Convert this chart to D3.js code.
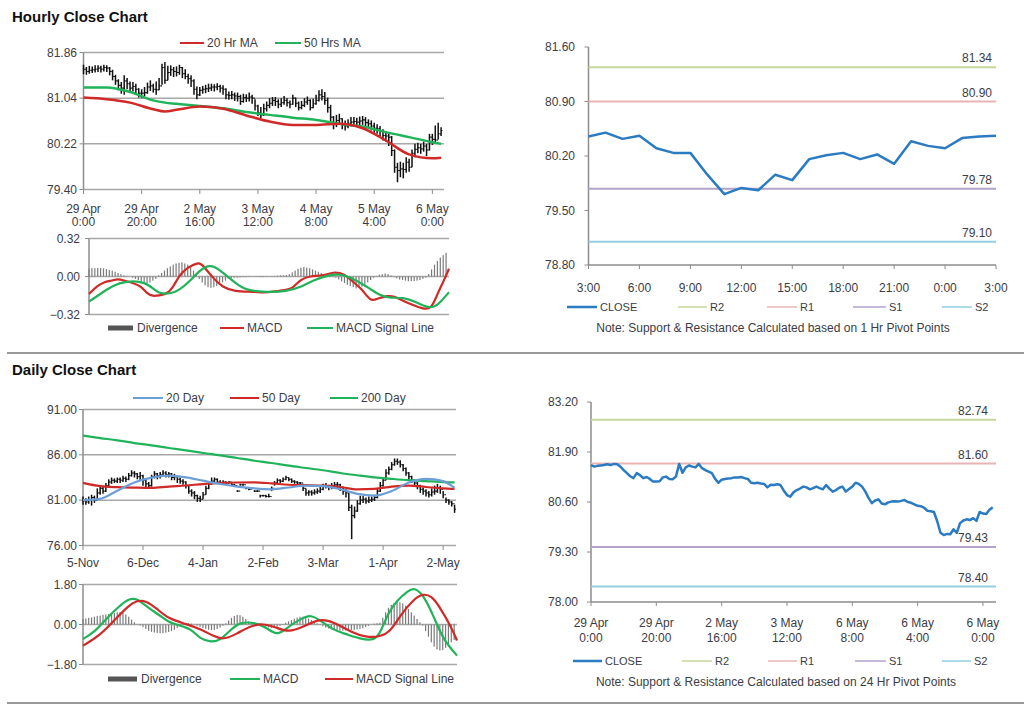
<!DOCTYPE html>
<html><head><meta charset="utf-8">
<script src="https://cdn.jsdelivr.net/npm/d3@7"></script>
<style>body{margin:0;background:#fff;} svg{display:block;font-family:"Liberation Sans",Arial,sans-serif;}</style>
</head><body><svg id="c" width="1024" height="706"></svg>
<script>
// ---------------- DATA ----------------
// Hourly OHLC-style bars (index = trading hour from 29 Apr 0:00)
const hourlyClose = [81.56,81.52,81.54,81.55,81.56,81.58,81.56,81.59,81.58,81.52,81.43,81.35,81.27,81.22,81.35,81.30,81.22,81.25,81.20,81.13,81.13,81.14,81.24,81.26,81.20,81.19,81.26,81.59,81.36,81.50,81.55,81.52,81.50,81.59,81.48,81.43,81.39,81.35,81.20,81.10,81.18,81.20,81.21,81.22,81.24,81.24,81.25,81.22,81.20,81.10,81.09,81.10,81.08,81.07,80.98,81.05,81.04,81.06,81.04,80.90,80.78,80.74,80.85,80.91,80.95,81.00,80.98,80.93,80.96,81.00,80.96,80.93,81.04,80.95,80.87,80.91,80.97,81.00,80.87,80.94,81.00,81.10,81.07,81.00,80.87,80.70,80.57,80.64,80.67,80.56,80.54,80.59,80.61,80.62,80.61,80.63,80.65,80.60,80.58,80.54,80.50,80.49,80.45,80.37,80.36,80.34,80.10,79.80,79.74,79.77,79.76,79.89,79.80,80.05,80.12,80.15,80.13,80.18,80.11,80.34,80.30,80.29,80.40,80.46];
const hourlyHigh = [81.64,81.60,81.62,81.61,81.63,81.63,81.62,81.64,81.63,81.60,81.55,81.46,81.38,81.33,81.45,81.40,81.34,81.33,81.30,81.22,81.20,81.24,81.32,81.36,81.30,81.34,81.40,81.66,81.69,81.62,81.63,81.60,81.61,81.64,81.60,81.56,81.48,81.45,81.38,81.25,81.24,81.26,81.28,81.30,81.30,81.29,81.31,81.28,81.27,81.22,81.16,81.17,81.14,81.14,81.10,81.12,81.11,81.14,81.10,81.02,80.92,80.88,80.94,80.98,81.04,81.06,81.06,81.02,81.04,81.08,81.04,81.00,81.10,81.05,80.98,80.99,81.04,81.07,81.02,81.03,81.10,81.18,81.20,81.15,81.05,80.92,80.72,80.74,80.76,80.68,80.64,80.66,80.70,80.70,80.69,80.71,80.72,80.70,80.66,80.64,80.60,80.57,80.54,80.48,80.44,80.42,80.36,80.12,79.88,79.90,79.88,79.98,79.95,80.12,80.22,80.24,80.22,80.26,80.22,80.40,80.40,80.55,80.60,80.52];
const hourlyLow = [81.47,81.46,81.48,81.49,81.50,81.51,81.50,81.52,81.51,81.45,81.36,81.28,81.18,81.12,81.10,81.20,81.15,81.16,81.12,81.05,81.04,81.07,81.12,81.17,81.14,81.10,81.18,81.28,81.30,81.36,81.44,81.42,81.43,81.46,81.40,81.38,81.30,81.24,81.10,81.02,81.08,81.12,81.13,81.15,81.17,81.16,81.18,81.14,81.10,81.02,81.01,81.02,80.99,80.98,80.92,80.96,80.97,80.98,80.94,80.82,80.72,80.68,80.72,80.80,80.86,80.90,80.90,80.86,80.88,80.92,80.89,80.86,80.92,80.88,80.82,80.84,80.88,80.92,80.82,80.86,80.92,80.98,81.00,80.92,80.78,80.60,80.48,80.52,80.56,80.48,80.46,80.50,80.53,80.55,80.54,80.55,80.56,80.52,80.50,80.46,80.42,80.40,80.36,80.28,80.26,80.18,80.00,79.70,79.53,79.62,79.60,79.70,79.72,79.80,79.98,80.05,80.04,80.08,80.00,80.10,80.20,80.22,80.30,80.36];
const hourlyTickIdx = [0,20,40,60,80,100,120];
const hourlyTickTop = ["29 Apr","29 Apr","2 May","3 May","4 May","5 May","6 May"];
const hourlyTickBot = ["0:00","20:00","16:00","12:00","8:00","4:00","0:00"];
const hourlyYTicks = [79.40,80.22,81.04,81.86];
// Hourly moving averages (read at these hour indices)
const hourlyMAIdx = [0,8,16,24,28,32,40,48,56,64,72,80,88,96,104,112,120,123];
const hourlyMA20 = [81.05,81.02,80.96,80.84,80.80,80.83,80.89,80.85,80.73,80.62,80.56,80.56,80.58,80.50,80.28,80.03,79.96,79.97];
const hourlyMA50 = [81.23,81.23,81.15,81.00,80.96,80.94,80.90,80.86,80.79,80.74,80.69,80.65,80.58,80.53,80.43,80.34,80.25,80.22];
// Hourly MACD
const hMacdIdx = [0,3,5,8,10,12,15,18,20,22,24,27,29,31,34,38,39,43,46,50,57,60,64,68,70,73,76,81,84,88,91,94,97,99,103,105,108,112,115,118,120,122,124];
const hMacd = [-0.146,-0.076,-0.048,-0.034,-0.020,-0.034,-0.053,-0.080,-0.146,-0.166,-0.160,-0.146,-0.090,0.008,0.079,0.121,0.100,-0.020,-0.090,-0.127,-0.127,-0.138,-0.127,-0.110,-0.104,-0.020,0.003,0.008,0.039,0.025,-0.048,-0.104,-0.211,-0.189,-0.160,-0.166,-0.203,-0.245,-0.273,-0.273,-0.146,-0.048,0.065];
const hSigIdx = [0,4,8,13,18,21,24,28,31,35,38,41,43,46,50,54,61,68,73,77,82,86,90,93,97,100,104,108,113,116,119,121,124];
const hSig = [-0.211,-0.146,-0.076,-0.039,-0.042,-0.076,-0.146,-0.146,-0.118,-0.034,0.051,0.093,0.087,0.037,-0.048,-0.118,-0.132,-0.127,-0.090,-0.034,0.008,0.022,-0.006,-0.048,-0.104,-0.160,-0.183,-0.174,-0.217,-0.259,-0.259,-0.217,-0.132];
const hDiv = [0.065,0.07,0.07,0.072,0.07,0.068,0.062,0.055,0.05,0.04,
 0.03,0.02,0.01,0.005,0,
 -0.01,-0.02,-0.03,-0.045,-0.055,-0.06,-0.05,-0.035,-0.02,
 0.01,0.03,0.05,0.07,0.085,0.1,0.11,0.115,0.12,0.11,0.1,0.08,0.05,
 0.02,-0.02,-0.05,-0.075,-0.09,-0.095,-0.09,-0.08,-0.065,-0.05,-0.035,-0.02,
 -0.015,-0.01,-0.01,-0.008,-0.005,-0.005,-0.003,0,0,-0.003,-0.005,-0.005,-0.003,0,0.003,0.005,0.008,0.01,0.01,0.012,
 0.02,0.035,0.05,0.065,0.075,0.08,0.075,0.07,0.06,0.05,0.04,0.03,
 0.02,0.015,0.01,0.005,-0.01,-0.025,
 -0.04,-0.055,-0.07,-0.08,-0.09,-0.1,-0.095,-0.085,-0.07,-0.05,-0.03,
 -0.01,0.005,0.015,0.02,0.025,0.02,0.01,
 -0.005,-0.015,-0.025,-0.03,-0.035,-0.04,-0.04,-0.038,-0.035,-0.03,-0.02,-0.01,
 0.02,0.06,0.1,0.13,0.16,0.18,0.2];
const hMacdYTicks = [-0.32,0,0.32];

// 1-hour pivot chart (last 24 hours)
const pivot1Labels = ["3:00","6:00","9:00","12:00","15:00","18:00","21:00","0:00","3:00"];
const pivot1Close = [80.45,80.50,80.42,80.46,80.30,80.24,80.24,79.96,79.71,79.79,79.76,79.96,79.89,80.16,80.21,80.24,80.16,80.22,80.10,80.39,80.33,80.30,80.43,80.45,80.46];
const pivot1YTicks = [78.80,79.50,80.20,80.90,81.60];
const pivot1Levels = [81.34,80.90,79.78,79.10]; // R2, R1, S1, S2
const levelNames = ["R2","R1","S1","S2"];

// Daily bars (index = trading day from 5-Nov)
const dailyClose = [80.9,80.8,81.0,81.3,81.0,81.8,82.3,82.0,82.6,83.0,83.2,83.1,83.3,83.2,83.4,83.3,83.7,84.0,83.9,83.6,83.7,83.2,82.8,82.6,83.6,83.9,83.7,83.8,84.0,83.8,83.9,83.5,83.6,83.3,83.1,83.0,82.6,82.0,81.8,81.5,81.2,81.1,81.6,82.3,82.8,83.1,83.3,83.0,82.9,83.0,82.9,83.0,82.7,82.6,82.0,82.7,82.7,82.3,82.2,82.3,82.0,82.0,81.5,81.5,81.4,81.4,82.3,82.9,83.2,83.1,83.3,83.5,83.3,83.1,83.0,82.9,82.9,82.3,81.8,81.9,81.8,81.9,82.0,82.2,82.5,82.6,82.4,82.6,82.7,82.7,82.4,82.0,81.8,80.2,79.3,79.8,80.6,81.0,81.1,80.9,81.0,81.1,81.3,82.0,82.6,83.2,84.0,84.4,84.9,85.3,85.2,84.9,84.5,84.0,83.6,83.2,82.9,82.6,82.2,82.0,81.8,81.6,81.9,82.0,82.4,82.2,81.6,81.0,80.8,80.6,80.0];
const dailyHigh = [81.4,81.2,81.4,81.6,81.5,82.3,82.6,82.6,82.9,83.3,83.5,83.4,83.5,83.5,83.7,83.6,84.0,84.3,84.2,84.0,84.1,83.8,83.4,83.0,83.8,84.2,84.0,84.1,84.3,84.2,84.1,84.0,83.9,83.7,83.5,83.3,83.1,82.7,82.2,82.0,81.6,81.5,81.9,82.6,83.1,83.5,83.5,83.4,83.2,83.2,83.1,83.1,82.9,82.8,82.1,82.8,82.8,82.4,82.3,82.4,82.1,82.1,81.6,81.6,81.6,81.7,82.5,83.1,83.4,83.3,83.5,83.7,83.5,83.4,83.2,83.1,83.0,82.8,82.3,82.1,82.1,82.2,82.3,82.5,82.8,82.9,82.7,82.9,83.0,83.0,82.8,82.5,82.2,81.8,80.5,80.3,81.0,81.5,81.5,81.3,81.4,81.4,81.6,82.3,83.0,83.5,84.4,84.7,85.2,85.6,85.6,85.4,85.0,84.6,84.1,83.7,83.3,83.0,82.7,82.4,82.2,82.0,82.3,82.6,82.8,82.6,82.0,81.3,81.1,80.9,80.5];
const dailyLow = [80.5,80.5,80.6,80.4,80.7,81.0,81.6,81.7,81.9,82.4,82.8,82.9,82.9,82.9,83.0,83.0,83.2,83.6,83.5,83.3,83.2,82.6,82.4,82.4,82.5,83.4,83.3,83.4,83.6,83.5,83.5,83.2,83.2,82.9,82.8,82.7,82.3,81.7,81.4,81.1,80.8,80.8,81.1,81.6,82.2,82.7,82.9,82.8,82.7,82.8,82.7,82.8,82.6,82.5,81.9,82.6,82.6,82.2,82.1,82.2,81.9,81.9,81.3,81.4,81.3,81.3,82.0,82.6,82.9,82.9,83.0,83.2,83.1,82.9,82.8,82.6,82.5,82.0,81.5,81.5,81.5,81.6,81.7,81.8,82.1,82.3,82.1,82.2,82.4,82.3,82.0,81.6,81.3,79.8,76.7,79.0,79.7,80.5,80.7,80.6,80.7,80.8,80.9,81.2,81.9,82.5,83.2,83.8,84.3,84.8,84.9,84.6,84.2,83.7,83.2,82.9,82.5,82.2,81.8,81.6,81.4,81.3,81.4,81.6,81.8,81.7,81.2,80.7,80.5,80.3,79.6];
const dailyTickIdx = [0,21,42,63,84,105,126];
const dailyTickLabels = ["5-Nov","6-Dec","4-Jan","2-Feb","3-Mar","1-Apr","2-May"];
const dailyYTicks = [76,81,86,91];
// Daily moving averages (read at these day indices)
const dailyMAIdx = [0,6,12,18,24,30,36,42,48,54,60,66,72,78,84,90,96,102,108,114,120,126,130];
const dailyMA20 = [81.0,81.15,82.05,82.95,83.48,83.7,83.52,83.15,82.78,82.5,82.3,82.2,82.4,82.6,82.55,82.2,81.7,81.5,82.0,82.95,83.35,83.1,82.35];
const dailyMA50 = [82.9,82.54,82.43,82.38,82.35,82.5,82.62,82.78,82.9,82.95,82.97,82.85,82.7,82.65,82.6,82.45,82.2,82.25,82.5,82.6,82.45,82.3,82.24];
const dailyMA200 = [88.12,87.85,87.6,87.3,87.05,86.75,86.5,86.2,85.95,85.65,85.35,85.1,84.8,84.55,84.3,84.0,83.75,83.52,83.35,83.2,83.1,83.0,82.97];
// Daily MACD
const dMacdIdx = [0,4,8,13,16,19,21,24,27,30,34,38,41,45,48,52,55,60,64,68,71,76,80,83,88,92,97,102,104,107,110,114,116,119,123,126,131];
const dMacd = [-0.65,-0.35,0.25,0.86,1.16,1.16,0.93,0.66,0.4,0.1,-0.05,-0.2,-0.65,-0.8,-0.72,-0.2,0.1,0.1,-0.12,-0.5,-0.2,0.25,0.45,0.18,-0.27,-0.42,-0.65,-0.72,-0.42,0.56,1.08,1.53,1.65,1.38,0.33,-0.65,-1.4];
const dSigIdx = [0,6,12,16,19,22,26,30,36,41,46,49,54,58,63,68,72,77,83,88,94,99,104,108,111,116,119,122,125,129,131];
const dSig = [-0.95,-0.5,0.33,0.86,1.08,1.08,0.7,0.25,0.03,-0.2,-0.54,-0.69,-0.42,-0.09,0.06,-0.15,-0.35,-0.12,0.28,0.1,-0.35,-0.57,-0.57,-0.27,0.4,1.16,1.38,1.3,0.78,-0.12,-0.72];
const dDiv = [0.25,0.27,0.3,0.32,0.35,0.38,
 0.4,0.43,0.45,0.48,0.5,0.52,0.55,
 0.56,0.53,0.45,0.35,0.22,0.1,
 0.02,-0.05,-0.12,-0.2,
 -0.28,-0.33,-0.36,-0.38,-0.39,-0.39,-0.37,-0.34,-0.3,-0.24,-0.15,
 -0.05,0.03,0.06,0.06,0.04,0.0,
 -0.05,-0.1,-0.16,-0.2,-0.24,-0.25,-0.24,-0.2,-0.14,-0.06,
 0.05,0.18,0.3,0.38,0.43,0.42,0.35,0.25,0.14,
 0.05,0.02,0,-0.03,-0.06,-0.1,-0.13,
 -0.15,-0.14,-0.1,-0.05,0.02,
 0.08,0.14,0.2,0.26,0.31,0.35,0.35,0.32,0.27,0.2,0.12,0.05,
 -0.02,-0.08,-0.14,-0.18,-0.22,-0.25,-0.27,-0.28,-0.28,-0.27,-0.26,-0.25,-0.24,-0.22,-0.2,-0.17,-0.12,
 -0.06,0.0,0.04,0.06,0.08,
 0.3,0.55,0.75,0.88,0.97,1.0,1.0,0.95,0.85,0.7,0.55,0.4,0.25,0.1,-0.05,
 -0.3,-0.55,-0.8,-1.0,-1.12,-1.17,-1.15,-1.05,-0.95,-0.8,-0.7];
const dMacdYTicks = [-1.8,0,1.8];

// 24-hour pivot chart
const pivot24TickIdx = [0,20,40,60,80,100,120];
const pivot24TickTop = ["29 Apr","29 Apr","2 May","3 May","6 May","6 May","6 May"];
const pivot24TickBot = ["0:00","20:00","16:00","12:00","8:00","4:00","0:00"];
const pivot24YTicks = [78.00,79.30,80.60,81.90,83.20];
const pivot24Levels = [82.74,81.60,79.43,78.40];

// ---------------- DRAWING ----------------
const svg = d3.select("#c");
const TXT = "#3c3c46", GRID = "#a8a8a8", AX = "#8c8c8c";
const RED = "#cf2a27", GREEN = "#21b35a", BLUE = "#2b7bc3", LBLUE = "#6c9fd8", DIVC = "#7a7a7a";
const levelColors = ["#c4d79b", "#e8b4b4", "#b2a2cc", "#93cfe0"];
const f2 = d3.format(".2f");
const pairs = (idx, vals) => idx.map((d, i) => [d, vals[i]]);

svg.append("rect").attr("width", 1024).attr("height", 706).attr("fill", "#fff");

function title(t, y) {
  svg.append("text").attr("x", 12).attr("y", y).attr("font-size", 15).attr("font-weight", "bold")
    .attr("fill", "#111").text(t);
}
title("Hourly Close Chart", 22);
title("Daily Close Chart", 375);
svg.append("line").attr("x1", 7).attr("x2", 1024).attr("y1", 353).attr("y2", 353).attr("stroke", "#999").attr("stroke-width", 2);
svg.append("line").attr("x1", 7).attr("x2", 1024).attr("y1", 703).attr("y2", 703).attr("stroke", "#999").attr("stroke-width", 2);

function gridPanel(x, y, yTicks, labelX, fmt) {
  const [x0, x1] = x.range();
  const g = svg.append("g");
  yTicks.forEach(v => {
    g.append("line").attr("x1", x0).attr("x2", x1).attr("y1", y(v)).attr("y2", y(v))
      .attr("stroke", GRID).attr("stroke-width", 1.5);
    g.append("line").attr("x1", x0 - 4).attr("x2", x0).attr("y1", y(v)).attr("y2", y(v)).attr("stroke", AX);
    g.append("text").attr("x", labelX).attr("y", y(v)).attr("dy", "0.35em").attr("text-anchor", "end")
      .attr("font-size", 12).attr("fill", TXT).text(fmt(v));
  });
  const [ya, yb] = y.range();
  g.append("line").attr("x1", x0).attr("x2", x0).attr("y1", ya).attr("y2", yb).attr("stroke", AX).attr("stroke-width", 1.5);
  return g;
}

function legendLine(x1, x2, y, color, w, label, size) {
  svg.append("line").attr("x1", x1).attr("x2", x2).attr("y1", y).attr("y2", y).attr("stroke", color).attr("stroke-width", w);
  svg.append("text").attr("x", x2 + 3).attr("y", y + 4).attr("font-size", size).attr("fill", TXT).text(label);
}
function legendBar(x1, x2, y, label) {
  svg.append("rect").attr("x", x1).attr("y", y - 2.5).attr("width", x2 - x1).attr("height", 5).attr("fill", "#555");
  svg.append("text").attr("x", x2 + 4).attr("y", y + 4).attr("font-size", 12).attr("fill", TXT).text(label);
}

function bars(x, y, hi, lo, cl, w) {
  const g = svg.append("g").attr("stroke", "#111");
  cl.forEach((c, i) => {
    const xi = x(i);
    g.append("line").attr("x1", xi).attr("x2", xi).attr("y1", y(lo[i])).attr("y2", y(hi[i])).attr("stroke-width", w);
    g.append("line").attr("x1", xi).attr("x2", xi + 1.4).attr("y1", y(c)).attr("y2", y(c)).attr("stroke-width", 1.1);
    if (i > 0) g.append("line").attr("x1", xi - 1.4).attr("x2", xi).attr("y1", y(cl[i - 1])).attr("y2", y(cl[i - 1])).attr("stroke-width", 1.1);
  });
}
function line(x, y, data, color, w, curve) {
  svg.append("path").datum(data).attr("fill", "none").attr("stroke", color).attr("stroke-width", w)
    .attr("stroke-linejoin", "round")
    .attr("d", d3.line().x(d => x(d[0])).y(d => y(d[1])).curve(curve || d3.curveMonotoneX));
}
function divBars(x, y, vals, w) {
  const g = svg.append("g");
  vals.forEach((v, i) => {
    g.append("rect").attr("x", x(i) - w / 2).attr("width", w)
      .attr("y", Math.min(y(0), y(v))).attr("height", Math.abs(y(v) - y(0))).attr("fill", DIVC);
  });
}

// ---- Panel A: hourly bars ----
{
  const x = d3.scaleLinear().domain([0, 124]).range([83.5, 444]);
  const y = d3.scaleLinear().domain([79.40, 81.86]).range([189.5, 52.5]);
  gridPanel(x, y, hourlyYTicks, 77, f2);
  hourlyTickIdx.forEach((t, i) => {
    svg.append("line").attr("x1", x(t)).attr("x2", x(t)).attr("y1", 189.5).attr("y2", 194).attr("stroke", AX);
    svg.append("text").attr("x", x(t)).attr("y", 213).attr("text-anchor", "middle").attr("font-size", 12).attr("fill", TXT).text(hourlyTickTop[i]);
    svg.append("text").attr("x", x(t)).attr("y", 226).attr("text-anchor", "middle").attr("font-size", 12).attr("fill", TXT).text(hourlyTickBot[i]);
  });
  bars(x, y, hourlyHigh, hourlyLow, hourlyClose, 1.5);
  line(x, y, pairs(hourlyMAIdx, hourlyMA50), GREEN, 2.5);
  line(x, y, pairs(hourlyMAIdx, hourlyMA20), RED, 2.5);
  legendLine(180, 204, 43, RED, 2, "20 Hr MA", 12);
  legendLine(275, 301, 43, GREEN, 2, "50 Hrs MA", 12);
}
// ---- Panel B: hourly MACD ----
{
  const x = d3.scaleLinear().domain([0, 124]).range([89, 449]);
  const y = d3.scaleLinear().domain([-0.32, 0.32]).range([314.5, 238.5]);
  gridPanel(x, y, hMacdYTicks, 80, f2);
  divBars(x, y, hDiv, 1.2);
  line(x, y, pairs(hMacdIdx, hMacd), RED, 2.2, d3.curveBasis);
  line(x, y, pairs(hSigIdx, hSig), GREEN, 2.2, d3.curveBasis);
  legendBar(108, 133, 328, "Divergence");
  legendLine(220, 244, 328, RED, 2, "MACD", 12);
  legendLine(307, 333, 328, GREEN, 2, "MACD Signal Line", 12);
}
// ---- pivot panel helper ----
function pivotPanel(x, y, yTicks, labelX, levels, lvlLabelX, lvlDy) {
  const [x0, x1] = x.range();
  const [yb, yt] = y.range();
  svg.append("line").attr("x1", x0).attr("x2", x0).attr("y1", yb).attr("y2", yt).attr("stroke", AX).attr("stroke-width", 1.5);
  svg.append("line").attr("x1", x0).attr("x2", x1).attr("y1", yb).attr("y2", yb).attr("stroke", AX).attr("stroke-width", 1.5);
  yTicks.forEach(v => {
    svg.append("line").attr("x1", x0 - 4).attr("x2", x0).attr("y1", y(v)).attr("y2", y(v)).attr("stroke", AX);
    svg.append("text").attr("x", labelX).attr("y", y(v)).attr("dy", "0.35em").attr("text-anchor", "end")
      .attr("font-size", 12).attr("fill", TXT).text(f2(v));
  });
  levels.forEach((v, i) => {
    svg.append("line").attr("x1", x0).attr("x2", x1).attr("y1", y(v)).attr("y2", y(v)).attr("stroke", levelColors[i]).attr("stroke-width", 2);
    svg.append("text").attr("x", lvlLabelX).attr("y", y(v) - lvlDy).attr("text-anchor", "end").attr("font-size", 12).attr("fill", TXT).text(f2(v));
  });
}
function pivotLegend(y, xs, note, noteX, noteY) {
  legendLine(xs[0][0], xs[0][1], y, BLUE, 2.5, "CLOSE", 11);
  levelNames.forEach((n, i) => legendLine(xs[i + 1][0], xs[i + 1][1], y, levelColors[i], 1.5, n, 11));
  svg.append("text").attr("x", noteX).attr("y", noteY).attr("text-anchor", "middle").attr("font-size", 12).attr("fill", TXT).text(note);
}
// ---- Panel C: 1 hr pivot ----
{
  const x = d3.scaleLinear().domain([0, 24]).range([588.5, 996]);
  const y = d3.scaleLinear().domain([78.80, 81.60]).range([265, 47]);
  pivotPanel(x, y, pivot1YTicks, 575, pivot1Levels, 992, 5);
  pivot1Labels.forEach((l, i) => {
    svg.append("line").attr("x1", x(i * 3)).attr("x2", x(i * 3)).attr("y1", 265).attr("y2", 269).attr("stroke", AX);
    svg.append("text").attr("x", x(i * 3)).attr("y", 292).attr("text-anchor", "middle").attr("font-size", 12).attr("fill", TXT).text(l);
  });
  line(x, y, pivot1Close.map((v, i) => [i, v]), BLUE, 2.5, d3.curveLinear);
  pivotLegend(307, [[567, 597], [678, 707], [767, 797], [853, 886], [942, 972]],
    "Note: Support & Resistance Calculated based on 1 Hr Pivot Points", 773, 332);
}
// ---- Panel D: daily bars ----
{
  const x = d3.scaleLinear().domain([0, 130.5]).range([83, 456]);
  const y = d3.scaleLinear().domain([76, 91]).range([545.5, 409.5]);
  gridPanel(x, y, dailyYTicks, 77, f2);
  dailyTickIdx.forEach((t, i) => {
    svg.append("line").attr("x1", x(t)).attr("x2", x(t)).attr("y1", 545.5).attr("y2", 550).attr("stroke", AX);
    svg.append("text").attr("x", x(t)).attr("y", 567).attr("text-anchor", "middle").attr("font-size", 12).attr("fill", TXT).text(dailyTickLabels[i]);
  });
  bars(x, y, dailyHigh, dailyLow, dailyClose, 1.5);
  line(x, y, pairs(dailyMAIdx, dailyMA200), GREEN, 2.2);
  line(x, y, pairs(dailyMAIdx, dailyMA50), RED, 2.2);
  line(x, y, pairs(dailyMAIdx, dailyMA20), LBLUE, 2.2);
  legendLine(133, 163, 398, LBLUE, 2, "20 Day", 12);
  legendLine(230, 259, 398, RED, 2, "50 Day", 12);
  legendLine(330, 358, 398, GREEN, 2, "200 Day", 12);
}
// ---- Panel E: daily MACD ----
{
  const x = d3.scaleLinear().domain([0, 131]).range([83, 457]);
  const y = d3.scaleLinear().domain([-1.8, 1.8]).range([664.5, 584.5]);
  gridPanel(x, y, dMacdYTicks, 77, f2);
  divBars(x, y, dDiv, 1.2);
  line(x, y, pairs(dMacdIdx, dMacd), GREEN, 2.2, d3.curveBasis);
  line(x, y, pairs(dSigIdx, dSig), RED, 2.2, d3.curveBasis);
  legendBar(108, 137, 679, "Divergence");
  legendLine(230, 260, 679, GREEN, 2, "MACD", 12);
  legendLine(325, 353, 679, RED, 2, "MACD Signal Line", 12);
}
// ---- Panel F: 24 hr pivot ----
{
  const x = d3.scaleLinear().domain([0, 124]).range([591, 996]);
  const y = d3.scaleLinear().domain([78.00, 83.20]).range([602, 402]);
  pivotPanel(x, y, pivot24YTicks, 578, pivot24Levels, 988, 5);
  pivot24TickIdx.forEach((t, i) => {
    svg.append("line").attr("x1", x(t)).attr("x2", x(t)).attr("y1", 602).attr("y2", 606).attr("stroke", AX);
    svg.append("text").attr("x", x(t)).attr("y", 627).attr("text-anchor", "middle").attr("font-size", 12).attr("fill", TXT).text(pivot24TickTop[i]);
    svg.append("text").attr("x", x(t)).attr("y", 642).attr("text-anchor", "middle").attr("font-size", 12).attr("fill", TXT).text(pivot24TickBot[i]);
  });
  line(x, y, hourlyClose.map((v, i) => [i, v]), BLUE, 2.5, d3.curveLinear);
  pivotLegend(661, [[573, 602], [682, 712], [768, 797], [855, 886], [942, 971]],
    "Note: Support & Resistance Calculated based on 24 Hr Pivot Points", 776, 686);
}
</script></body></html>
